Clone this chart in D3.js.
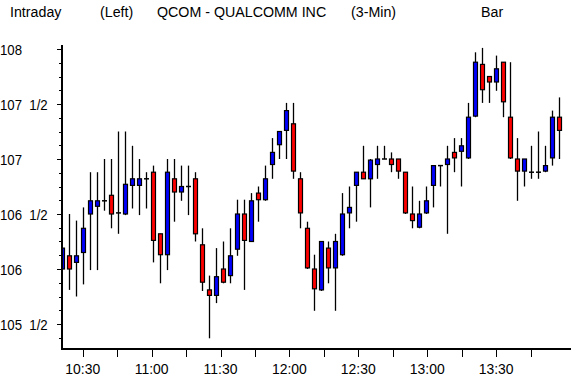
<!DOCTYPE html>
<html><head><meta charset="utf-8">
<script src="https://cdn.jsdelivr.net/npm/d3@7"></script>
<style>
html,body{margin:0;padding:0;background:#fff;}
svg{display:block;}
text{font-family:"Liberation Sans",Arial,sans-serif;font-size:15px;fill:#000;white-space:pre;}
</style></head>
<body><svg id="c" width="571" height="385"></svg>
<script>
const times = ["10:21","10:24","10:27","10:30","10:33","10:36","10:39","10:42","10:45","10:48",
"10:51","10:54","10:57","11:00","11:03","11:06","11:09","11:12","11:15","11:18",
"11:21","11:24","11:27","11:30","11:33","11:36","11:39","11:42","11:45","11:48",
"11:51","11:54","11:57","12:00","12:03","12:06","12:09","12:12","12:15","12:18",
"12:21","12:24","12:27","12:30","12:33","12:36","12:39","12:42","12:45","12:48",
"12:51","12:54","12:57","13:00","13:03","13:06","13:09","13:12","13:15","13:18",
"13:21","13:24","13:27","13:30","13:33","13:36","13:39","13:42","13:45","13:48",
"13:51","13:54"];
const open = [106.00,106.12,106.06,106.15,106.50,106.57,106.62,106.67,106.51,106.50,
106.76,106.76,106.82,106.88,106.32,106.13,106.82,106.70,106.75,106.82,
106.22,105.81,105.76,106.00,105.94,106.18,106.50,106.25,106.69,106.63,
106.95,107.13,107.26,107.32,106.82,106.37,106.00,105.81,106.19,106.01,
106.13,106.51,106.76,106.88,106.82,106.95,107.00,107.00,107.00,106.88,
106.50,106.38,106.51,106.76,106.94,106.95,107.06,107.07,107.01,107.39,
107.86,107.75,107.70,107.88,107.38,107.00,106.89,106.88,106.88,106.89,
107.01,107.38];
const high = [106.19,106.50,106.44,106.56,106.88,106.88,107.00,107.00,107.25,107.25,
107.12,107.00,106.88,106.94,106.32,107.00,107.00,106.94,106.94,106.88,
106.37,105.94,106.19,106.25,106.37,106.63,106.63,106.69,106.75,106.94,
107.19,107.25,107.51,107.51,106.88,106.43,106.13,106.25,106.25,106.32,
106.69,106.75,106.88,107.12,107.00,107.12,107.12,107.06,107.00,106.88,
106.75,106.62,106.75,106.94,106.94,107.12,107.19,107.19,107.51,107.97,
108.01,107.75,107.94,107.88,107.88,107.19,107.00,107.12,107.25,107.12,
107.44,107.56];
const low = [106.00,105.81,105.75,105.86,105.99,105.99,106.53,106.37,106.32,106.49,
106.55,106.49,106.55,106.06,105.87,105.99,106.43,106.62,106.49,106.25,
105.80,105.37,105.69,105.87,105.87,106.12,105.81,106.25,106.43,106.62,
106.82,107.00,107.00,106.82,106.37,106.00,105.62,105.80,105.87,105.62,
106.12,106.37,106.43,106.82,106.56,106.82,107.00,106.88,106.82,106.50,
106.37,106.37,106.50,106.56,106.75,106.32,106.88,106.75,107.00,107.38,
107.51,107.51,107.62,107.38,107.00,106.62,106.75,106.82,106.82,106.88,
106.94,107.00];
const close = [106.19,106.00,106.12,106.37,106.62,106.62,106.62,106.50,106.51,106.77,
106.82,106.82,106.82,106.26,106.13,106.88,106.70,106.75,106.75,106.32,
105.88,105.76,105.93,105.88,106.12,106.50,106.26,106.62,106.63,106.82,
107.06,107.25,107.44,106.89,106.51,106.01,105.82,106.25,106.01,106.25,
106.50,106.56,106.88,106.82,106.99,107.00,107.00,106.95,106.89,106.51,
106.44,106.50,106.62,106.94,106.94,107.00,107.01,107.12,107.38,107.88,
107.63,107.70,107.82,107.52,107.01,106.89,107.00,106.88,106.88,106.94,
107.38,107.26];
const yTickValues = [105.5,106,106.5,107,107.5,108];
const yTickLabels = ["105  1/2","106","106  1/2","107","107  1/2","108"];
const xTickLabels = ["10:30","11:00","11:30","12:00","12:30","13:00","13:30"];
const titleParts = [["Intraday",10],["(Left)",100],["QCOM - QUALCOMM INC",157],["(3-Min)",351],["Bar",481]];

const svg = d3.select("#c");
const parse = d3.timeParse("%H:%M");
const y = d3.scaleLinear().domain([105, 108]).range([379, 49]);
const xBar = d3.scalePoint().domain(times).range([62.0, 559.3]);
const xTime = d3.scaleTime().domain([parse("10:30"), parse("13:30")]).range([82.7, 496.1]);

const axisLeft = 62, axisTop = 45, axisBottom = 349;

// title
svg.selectAll("text.title").data(titleParts).enter().append("text")
  .attr("class","title").attr("transform", d=>`translate(${d[1]},17) scale(0.95,1)`).text(d=>d[0]);

const data = times.map((t,i)=>({t, o:open[i], h:high[i], l:low[i], c:close[i]}));
const g = svg.append("g");
const bw = 4;
const cs = g.selectAll("g.c").data(data).enter().append("g").attr("class","c");
cs.append("line")
  .attr("x1", d=>Math.round(xBar(d.t))+0.5).attr("x2", d=>Math.round(xBar(d.t))+0.5)
  .attr("y1", d=>y(d.h)).attr("y2", d=>y(d.l))
  .attr("stroke","#000").attr("stroke-width",1.3);
cs.filter(d=>d.o!==d.c).append("rect")
  .attr("x", d=>Math.round(xBar(d.t))+0.5-bw/2)
  .attr("y", d=>y(Math.max(d.o,d.c)))
  .attr("width", bw)
  .attr("height", d=>Math.abs(y(d.o)-y(d.c)))
  .attr("fill", d=>d.c>d.o ? "#0000ff" : "#ff0000")
  .attr("stroke","#000").attr("stroke-width",1.2);
cs.filter(d=>d.o===d.c).append("line")
  .attr("x1", d=>Math.round(xBar(d.t))+0.5-bw/2-0.5).attr("x2", d=>Math.round(xBar(d.t))+0.5+bw/2+0.5)
  .attr("y1", d=>y(d.o)).attr("y2", d=>y(d.o))
  .attr("stroke","#000").attr("stroke-width",1.5);

// white-out left of axis
svg.append("rect").attr("x",0).attr("y",axisTop).attr("width",axisLeft-1).attr("height",axisBottom-axisTop).attr("fill","#fff");

// Y axis
const minor = d3.range(105.375, 108.001, 0.125).filter(v=>y(v) <= axisBottom && y(v)>=axisTop);
svg.selectAll("line.ym").data(minor).enter().append("line")
  .attr("x1", d=> (Math.abs(d*2-Math.round(d*2))<1e-6) ? axisLeft-5 : axisLeft-3)
  .attr("x2", axisLeft).attr("y1", d=>Math.round(y(d))+0.5).attr("y2", d=>Math.round(y(d))+0.5)
  .attr("stroke","#000").attr("stroke-width",1);
svg.append("line").attr("x1",axisLeft).attr("x2",axisLeft).attr("y1",axisTop).attr("y2",axisBottom+1)
  .attr("stroke","#000").attr("stroke-width",2);
svg.selectAll("text.yl").data(yTickValues).enter().append("text")
  .attr("class","yl").attr("transform", d=>`translate(0,${y(d)+6}) scale(0.88,1)`)
  .text((d,i)=>yTickLabels[i]);

// X axis
svg.append("line").attr("x1",axisLeft-1).attr("x2",571).attr("y1",axisBottom).attr("y2",axisBottom)
  .attr("stroke","#000").attr("stroke-width",2);
const xTicks = d3.timeMinute.every(15).range(parse("10:30"), parse("13:46"));
svg.selectAll("line.xt").data(xTicks).enter().append("line")
  .attr("x1", d=>Math.round(xTime(d))+0.5).attr("x2", d=>Math.round(xTime(d))+0.5)
  .attr("y1", axisBottom).attr("y2", axisBottom+8)
  .attr("stroke","#000").attr("stroke-width",1);
const fmt = d3.timeFormat("%H:%M");
svg.selectAll("text.xl").data(xTicks.filter(d=>xTickLabels.includes(fmt(d)))).enter().append("text")
  .attr("class","xl").attr("text-anchor","middle")
  .attr("transform", d=>`translate(${xTime(d)},374) scale(0.93,1)`)
  .text(d=>fmt(d));
</script></body></html>
